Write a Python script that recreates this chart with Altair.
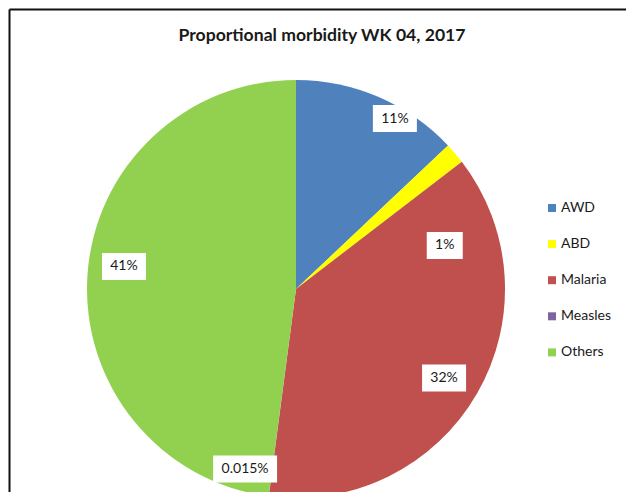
import altair as alt
import pandas as pd

# ---- data ----
categories = ["AWD", "ABD", "Malaria", "Measles", "Others"]
values = [11.2, 1.4, 32.4, 0.015, 41.4]
labels = ["11%", "1%", "32%", "0.015%", "41%"]
title_text = "Proportional morbidity WK 04, 2017"

# ---- style ----
colors = ["#4F81BD", "#FFFF00", "#C0504D", "#8064A2", "#92D050"]
label_shift_deg = [6.8, 24.1, 1.0, 8.3, 3.7]
label_radius = [197, 155, 172.7, 187, 173.5]
box_w = [44, 36, 44, 64, 44]
BOX_H = 27
W, H = 618, 484
CX, CY, R = 288, 281, 209
FONT = "Lato"
TXT = "#1a1a1a"

df = pd.DataFrame({
    "cat": categories,
    "value": values,
    "label": labels,
    "idx": list(range(len(categories))),
    "shift": label_shift_deg,
    "lr": label_radius,
    "bw": box_w,
})

base = alt.Chart(df)

pie = base.mark_arc(outerRadius=R).encode(
    theta=alt.Theta("value:Q", stack=True),
    order=alt.Order("idx:Q"),
    color=alt.Color(
        "cat:N",
        sort=categories,
        scale=alt.Scale(domain=categories, range=colors),
        legend=alt.Legend(
            orient="none", legendX=537, legendY=193, title=None,
            symbolType="square", symbolSize=64, symbolStrokeWidth=0,
            labelFont=FONT, labelFontSize=14, labelColor=TXT,
            rowPadding=22.1, labelOffset=2, padding=0,
        ),
    ),
    x=alt.value(CX),
    y=alt.value(CY),
)

lab = (
    base.transform_joinaggregate(total="sum(value)")
    .transform_window(cum="sum(value)", sort=[alt.SortField("idx")], frame=[None, 0])
    .transform_calculate(a="((datum.cum - datum.value/2)/datum.total*360 + datum.shift)*PI/180")
    .transform_calculate(
        lx=f"{CX} + datum.lr*sin(datum.a)",
        ly=f"{CY} - datum.lr*cos(datum.a)",
    )
    .transform_calculate(
        bx1="datum.lx - datum.bw/2",
        bx2="datum.lx + datum.bw/2",
        by1=f"datum.ly - {BOX_H/2}",
        by2=f"datum.ly + {BOX_H/2}",
    )
)

boxes = lab.mark_rect(color="white").encode(
    x=alt.X("bx1:Q", scale=None, axis=None),
    x2="bx2:Q",
    y=alt.Y("by1:Q", scale=None, axis=None),
    y2="by2:Q",
)

texts = lab.mark_text(font=FONT, fontSize=14, color=TXT, baseline="middle").encode(
    x=alt.X("lx:Q", scale=None, axis=None),
    y=alt.Y("ly:Q", scale=None, axis=None),
    text="label:N",
)

title = alt.Chart(pd.DataFrame({"t": [title_text]})).mark_text(
    font=FONT, fontWeight="bold", fontSize=17.6, color=TXT, baseline="alphabetic"
).encode(x=alt.value(314), y=alt.value(33), text="t:N")

frame_v = alt.Chart(pd.DataFrame({"a": [0]})).mark_rule(color="#111", strokeWidth=2).encode(
    x=alt.value(1.5), y=alt.value(1.5), y2=alt.value(H)
)
frame_h = alt.Chart(pd.DataFrame({"a": [0]})).mark_rule(color="#111", strokeWidth=2).encode(
    x=alt.value(1.5), x2=alt.value(W), y=alt.value(1.5)
)

chart = (
    alt.layer(pie, boxes, texts, title, frame_v, frame_h)
    .properties(width=W, height=H, padding=0, autosize="none", background="white")
    .configure_view(stroke=None)
)

chart.save("out.html", embed_options={"renderer": "svg", "actions": False})
